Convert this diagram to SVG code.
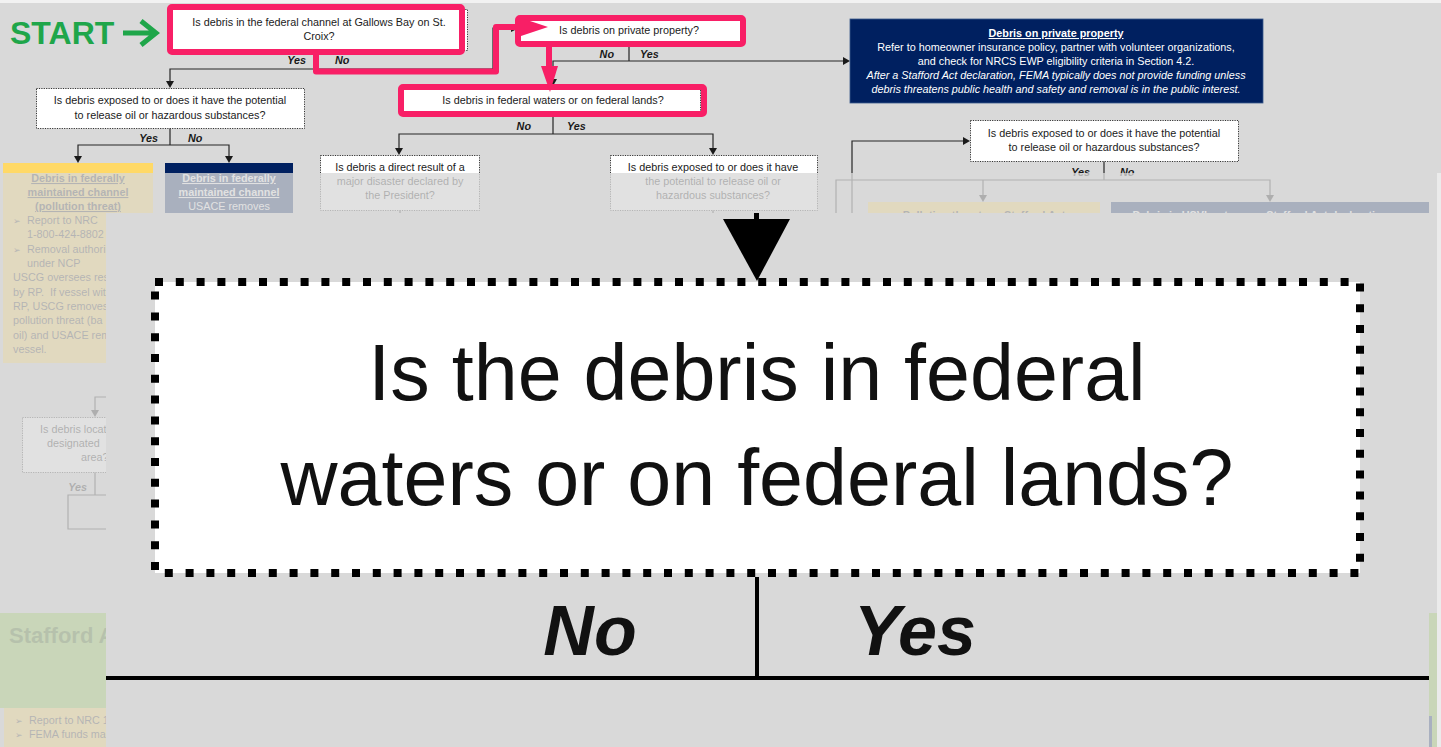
<svg xmlns="http://www.w3.org/2000/svg" width="1441" height="747" viewBox="0 0 1441 747">
  <defs>
    <style>
      .t { font-family: "Liberation Sans", Arial, sans-serif; font-size: 10.8px; fill: #1a1a1a; }
      .c { text-anchor: middle; }
      .b { font-weight: bold; }
      .i { font-style: italic; }
      .u { text-decoration: underline; }
      .w { fill: #ffffff; }
      .d { fill: #333333; }
      .lbl { font-family: "Liberation Sans", Arial, sans-serif; font-size: 10.8px; font-weight: bold; font-style: italic; fill: #1a1a1a; }
      .bul { font-family: "DejaVu Sans", "Liberation Sans", sans-serif; font-size: 9px; fill: #333333; }
      .q { fill: #ffffff; stroke: #333333; stroke-width: 1; stroke-dasharray: 1.2 1.2; }
      .ln { fill: none; stroke: #262626; stroke-width: 1.2; }
      .ah { fill: #1a1a1a; }
      .pk { fill: none; stroke: #f81f66; stroke-width: 6; stroke-linejoin: round; }
      .pkf { fill: #f81f66; }
      .big { font-family: "Liberation Sans", Arial, sans-serif; font-size: 79px; fill: #111111; text-anchor: middle; }
      .bigl { font-family: "Liberation Sans", Arial, sans-serif; font-size: 70px; font-weight: bold; font-style: italic; fill: #111111; text-anchor: middle; }
    </style>
  </defs>

  <!-- page background -->
  <rect x="0" y="0" width="1441" height="747" fill="#d9d9d9"/>
  <rect x="0" y="0" width="1441" height="3" fill="#f2f2f2"/>

  <!-- start marker -->
  <g id="start">
    <text x="10" y="44" font-family="Liberation Sans, Arial, sans-serif" font-size="32" font-weight="bold" fill="#1fa64a">START</text>
    <path d="M123,33 H155 M141,21 L156,33 L141,45" fill="none" stroke="#1fa64a" stroke-width="5" stroke-linejoin="miter"/>
  </g>

  <!-- flowchart connectors -->
  <g id="connectors">
    <path class="ln" d="M318,50 V69 M170,82 V69 H493 V28 H512"/>
    <polygon class="ah" points="166,81 174,81 170,88"/>
    <polygon class="ah" points="511,24 519,28 511,32"/>
    <path class="ln" d="M629,42 V61 M553,80 V61 H843"/>
    <polygon class="ah" points="843,57 850,61 843,65"/>
    <polygon class="ah" points="549,79 557,79 553,86"/>
    <path class="ln" d="M553,114 V134 M399,149 V134 H713 V149"/>
    <polygon class="ah" points="395,148 403,148 399,155"/>
    <polygon class="ah" points="709,148 717,148 713,155"/>
    <path class="ln" d="M170,128 V145 M78,157 V145 H229 V157"/>
    <polygon class="ah" points="74,156 82,156 78,163"/>
    <polygon class="ah" points="225,156 233,156 229,163"/>
    <path class="ln" d="M852,215 V141 H963"/>
    <polygon class="ah" points="963,137 970,141 963,145"/>
    <path class="ln" d="M1104,161 V180 M836,215 V180 H1270 V196 M983,180 V196"/>
    <polygon class="ah" points="979,195 987,195 983,202"/>
    <polygon class="ah" points="1266,195 1274,195 1270,202"/>
    <path class="ln" d="M400,210 V216 M713,210 V216"/>
    <path class="ln" d="M108,397 H95 V411"/>
    <polygon class="ah" points="91,410 99,410 95,417"/>
    <path class="ln" d="M95,472 V495 M108,495 H68 V529 H108"/>

    <!-- branch labels -->
    <text class="lbl" x="306" y="64" text-anchor="end">Yes</text>
    <text class="lbl" x="335" y="64">No</text>
    <text class="lbl" x="614" y="58" text-anchor="end">No</text>
    <text class="lbl" x="640" y="58">Yes</text>
    <text class="lbl" x="531" y="130" text-anchor="end">No</text>
    <text class="lbl" x="567" y="130">Yes</text>
    <text class="lbl" x="158" y="142" text-anchor="end">Yes</text>
    <text class="lbl" x="188" y="142">No</text>
    <text class="lbl" x="1090" y="176" text-anchor="end">Yes</text>
    <text class="lbl" x="1120" y="176">No</text>
    <text class="lbl" x="87" y="491" text-anchor="end">Yes</text>
  </g>

  <!-- question nodes -->
  <g id="q-gallows-bay">
    <rect class="q" x="172.5" y="9.5" width="295" height="41"/>
    <text class="t c" x="319" y="26">Is debris in the federal channel at Gallows Bay on St.</text>
    <text class="t c" x="319" y="40">Croix?</text>
  </g>
  <g id="q-private-property">
    <rect class="q" x="520.5" y="20.5" width="221" height="22"/>
    <text class="t c" x="629" y="34">Is debris on private property?</text>
  </g>
  <g id="q-federal-lands">
    <rect class="q" x="403.5" y="89.5" width="297" height="23"/>
    <text class="t c" x="553" y="104">Is debris in federal waters or on federal lands?</text>
  </g>
  <g id="q-oil-left">
    <rect class="q" x="36.5" y="88.5" width="268" height="40"/>
    <text class="t c" x="170" y="104">Is debris exposed to or does it have the potential</text>
    <text class="t c" x="170" y="119">to release oil or hazardous substances?</text>
  </g>
  <g id="q-disaster">
    <rect class="q" x="320.5" y="155.5" width="159" height="55"/>
    <text class="t c" x="400" y="171">Is debris a direct result of a</text>
    <text class="t c" x="400" y="185">major disaster declared by</text>
    <text class="t c" x="400" y="199">the President?</text>
  </g>
  <g id="q-oil-middle">
    <rect class="q" x="610.5" y="155.5" width="207" height="55"/>
    <text class="t c" x="713" y="171">Is debris exposed to or does it have</text>
    <text class="t c" x="713" y="185">the potential to release oil or</text>
    <text class="t c" x="713" y="199">hazardous substances?</text>
  </g>
  <g id="q-oil-right">
    <rect class="q" x="970.5" y="120.5" width="268" height="41"/>
    <text class="t c" x="1104" y="137">Is debris exposed to or does it have the potential</text>
    <text class="t c" x="1104" y="151">to release oil or hazardous substances?</text>
  </g>
  <g id="q-designated-area">
    <rect class="q" x="22.5" y="417.5" width="150" height="55"/>
    <text class="t" x="40" y="433">Is debris locat</text>
    <text class="t" x="47" y="447">designated</text>
    <text class="t" x="81" y="461">area?</text>
  </g>

  <!-- outcome nodes -->
  <g id="private-property">
    <rect x="850" y="19" width="413" height="84" fill="#002060" stroke="#3a5a8c" stroke-width="0.8"/>
    <text class="t c w b u" x="1056" y="37">Debris on private property</text>
    <text class="t c w" x="1056" y="51">Refer to homeowner insurance policy, partner with volunteer organizations,</text>
    <text class="t c w" x="1056" y="65">and check for NRCS EWP eligibility criteria in Section 4.2.</text>
    <text class="t c w i" x="1056" y="79">After a Stafford Act declaration, FEMA typically does not provide funding unless</text>
    <text class="t c w i" x="1056" y="93">debris threatens public health and safety and removal is in the public interest.</text>
  </g>
  <g id="channel-pollution">
    <rect x="3" y="163" width="150" height="50" fill="#ffd966"/>
    <rect x="3" y="213" width="103" height="150" fill="#ffd966"/>
    <text class="t c b u d" x="78" y="182">Debris in federally</text>
    <text class="t c b u d" x="78" y="196">maintained channel</text>
    <text class="t c b u d" x="78" y="210">(pollution threat)</text>
    <text class="bul" x="13" y="224">➢</text>
    <text class="t d" x="27" y="224">Report to NRC</text>
    <text class="t d" x="27" y="238">1-800-424-8802</text>
    <text class="bul" x="13" y="253">➢</text>
    <text class="t d" x="27" y="253">Removal authori</text>
    <text class="t d" x="27" y="267">under NCP</text>
    <text class="t d" x="13" y="281">USCG oversees resp</text>
    <text class="t d" x="13" y="296" xml:space="preserve">by RP.  If vessel wit</text>
    <text class="t d" x="13" y="310">RP, USCG removes</text>
    <text class="t d" x="13" y="324">pollution threat (ba</text>
    <text class="t d" x="13" y="339">oil) and USACE rem</text>
    <text class="t d" x="13" y="353">vessel.</text>
  </g>
  <g id="channel-usace">
    <rect x="165" y="163" width="128" height="50" fill="#002060"/>
    <text class="t c w b u" x="229" y="182">Debris in federally</text>
    <text class="t c w b u" x="229" y="196">maintained channel</text>
    <text class="t c w" x="229" y="210">USACE removes</text>
  </g>
  <g id="pollution-no-stafford">
    <rect x="868" y="202" width="232" height="20" fill="#ffd966"/>
    <text class="t c b d" x="984" y="219">Pollution threat, no Stafford Act</text>
  </g>
  <g id="usvi-no-stafford">
    <rect x="1111" y="202" width="318" height="20" fill="#002060"/>
    <text class="t c w b" x="1270" y="219">Debris in USVI waters, no Stafford Act declaration, no</text>
  </g>
  <g id="stafford-act">
    <rect x="0" y="613" width="106" height="95" fill="#90cb48"/>
    <text x="9" y="643" font-family="Liberation Sans, Arial, sans-serif" font-size="22" font-weight="bold" fill="#3c7010">Stafford A</text>
    <rect x="4" y="708" width="102" height="39" fill="#ffd966"/>
    <text class="bul" x="15" y="724">➢</text>
    <text class="t d" x="29" y="724">Report to NRC 1</text>
    <text class="bul" x="15" y="738">➢</text>
    <text class="t d" x="29" y="738">FEMA funds ma</text>
  </g>

  <!-- highlighted path -->
  <g id="highlight">
    <rect class="pk" x="170" y="7" width="292" height="45" rx="2"/>
    <rect class="pk" x="518" y="18" width="225" height="26" rx="2"/>
    <rect class="pk" x="401" y="87" width="303" height="27" rx="2"/>
    <path class="pk" d="M316,52 V71.5 H496 V27 H522" stroke-width="5"/>
    <polygon class="pkf" points="521,18 548,27 521,36"/>
    <path class="pk" d="M549,47 V70" stroke-width="6"/>
    <polygon class="pkf" points="541,66 558,66 550,92"/>
  </g>

  <!-- faded lower part of the chart -->
  <rect x="0" y="173" width="1441" height="574" fill="#d9d9d9" opacity="0.78"/>
  <rect x="1429" y="613" width="9" height="134" fill="#c9d6b8"/>
  <rect x="1429" y="716" width="3" height="31" fill="#a9b0c0"/>
  <rect x="1437" y="173" width="4" height="574" fill="#ebebeb"/>

  <!-- enlarged detail of the federal lands question -->
  <g id="detail-panel">
    <rect x="106" y="213" width="1323" height="534" fill="#d9d9d9"/>
    <g id="detail-connectors">
      <rect x="754" y="213" width="5" height="8" fill="#000000"/>
      <polygon points="723,219 790,219 757,281" fill="#000000"/>
      <path d="M757,577 V678 M106,678 H1429" fill="none" stroke="#000000" stroke-width="4"/>
      <text class="bigl" x="590" y="655">No</text>
      <text class="bigl" x="915" y="655">Yes</text>
    </g>
    <g id="detail-question">
      <rect x="155" y="282" width="1205" height="291" fill="#ffffff" stroke="#000000" stroke-width="8" stroke-dasharray="8 12.8"/>
      <text class="big" x="757" y="400">Is the debris in federal</text>
      <text class="big" x="757" y="505">waters or on federal lands?</text>
    </g>
  </g>
</svg>
